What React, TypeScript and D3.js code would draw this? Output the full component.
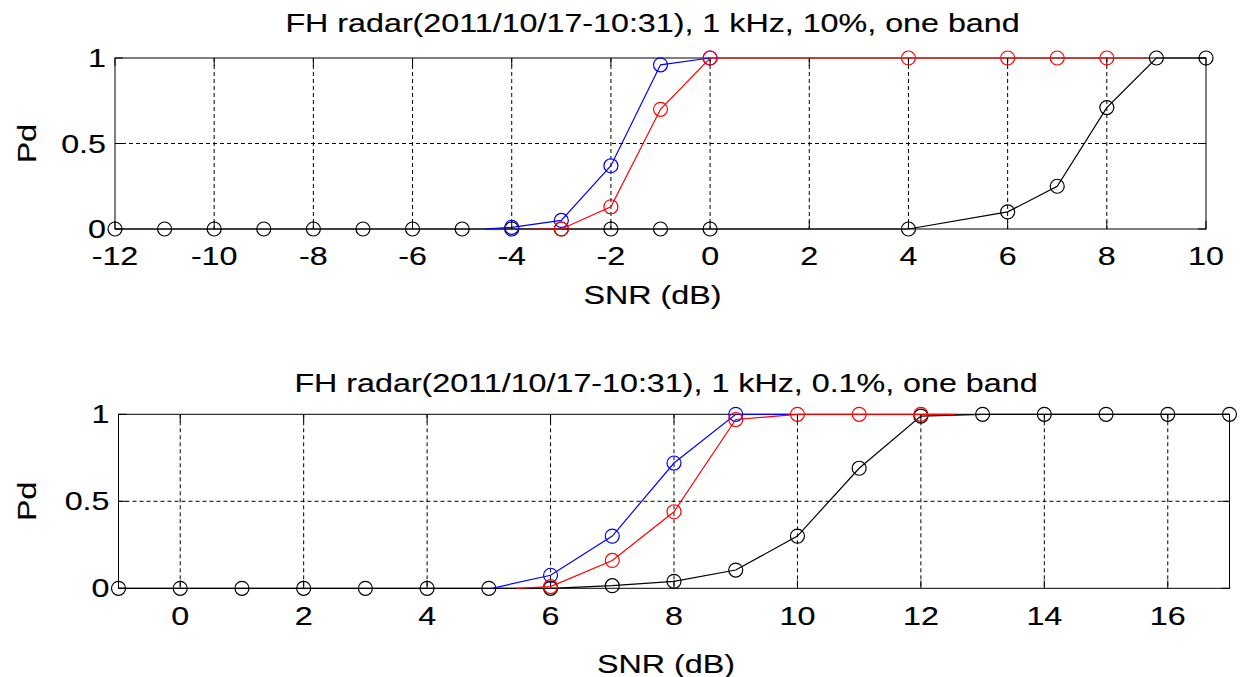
import React from "react";
import * as d3 from "d3";

// ---------- data ----------
const titleTop = "FH radar(2011/10/17-10:31), 1 kHz, 10%, one band";
const titleBottom = "FH radar(2011/10/17-10:31), 1 kHz, 0.1%, one band";
const xLabel = "SNR (dB)";
const yLabel = "Pd";

const topXTicks = [-12, -10, -8, -6, -4, -2, 0, 2, 4, 6, 8, 10];
const bottomXTicks = [0, 2, 4, 6, 8, 10, 12, 14, 16];
const yTicks = [0, 0.5, 1];
const yTickLabels = ["0", "0.5", "1"];

// top panel
const topBlackX = [-12, -11, -10, -9, -8, -7, -6, -5, -4, -3, -2, -1, 0, 4, 6, 7, 8, 9, 10];
const topBlackY = [0, 0, 0, 0, 0, 0, 0, 0, 0, 0, 0, 0, 0, 0, 0.1, 0.25, 0.71, 1, 1];
const topBlueX = [-4, -3, -2, -1, 0];
const topBlueY = [0.01, 0.05, 0.37, 0.96, 1];
const topBlueLineFrom = -4.55;
const topBlueLineTo = 0;
const topRedX = [-3, -2, -1, 0, 4, 6, 7, 8];
const topRedY = [0, 0.13, 0.7, 1, 1, 1, 1, 1];
const topRedLineFrom = -3.55;
const topRedLineTo = 8.85;

// bottom panel
const botBlackX = [-1, 0, 1, 2, 3, 4, 5, 6, 7, 8, 9, 10, 11, 12, 13, 14, 15, 16, 17];
const botBlackY = [0, 0, 0, 0, 0, 0, 0, 0, 0.015, 0.04, 0.105, 0.3, 0.69, 0.99, 1, 1, 1, 1, 1];
const botBlueX = [6, 7, 8, 9];
const botBlueY = [0.075, 0.3, 0.72, 1];
const botBlueLineFrom = 5.05;
const botBlueLineTo = 9.9;
const botRedX = [6, 7, 8, 9, 10, 11, 12];
const botRedY = [0.01, 0.16, 0.44, 0.97, 1, 1, 1];
const botRedLineFrom = 5.45;
const botRedLineTo = 12.55;

// ---------- styling ----------
const FONT = "'Liberation Sans', Arial, Helvetica, sans-serif";
const FS = 25;
const SX = 1.29;

type Series = {
  xs: number[];
  ys: number[];
  color: string;
  from?: number;
  to?: number;
};

function Txt({ x, y, text, anchor = "middle", rotate = 0, dy = "0" }: any) {
  return (
    <g transform={`translate(${x},${y}) rotate(${rotate}) scale(${SX},1)`}>
      <text
        x={0}
        y={0}
        dy={dy}
        textAnchor={anchor}
        fontFamily={FONT}
        fontSize={FS}
        fill="#000"
        stroke="#000"
        strokeWidth={0.15}
      >
        {text}
      </text>
    </g>
  );
}

function Panel({
  left,
  right,
  top,
  bottom,
  xDomain,
  xTicks,
  series,
  title,
  titleY,
  xLabelY,
  tickLabelY,
}: any) {
  const x = d3.scaleLinear().domain(xDomain).range([left, right]);
  const y = d3.scaleLinear().domain([0, 1]).range([bottom, top]);
  const line = d3
    .line<[number, number]>()
    .x((d) => x(d[0]))
    .y((d) => y(d[1]));
  const tickLen = 8;
  const midX = (left + right) / 2;

  return (
    <g>
      {/* grid */}
      {xTicks.map((t: number) =>
        t === xDomain[0] || t === xDomain[1] ? null : (
          <line
            key={"gx" + t}
            x1={x(t)}
            x2={x(t)}
            y1={top}
            y2={bottom}
            stroke="#000"
            strokeWidth={1}
            strokeDasharray="4,3"
          />
        )
      )}
      {yTicks.map((t) =>
        t === 0 || t === 1 ? null : (
          <line
            key={"gy" + t}
            x1={left}
            x2={right}
            y1={y(t)}
            y2={y(t)}
            stroke="#000"
            strokeWidth={1}
            strokeDasharray="4,3"
          />
        )
      )}
      {/* box */}
      <rect
        x={left}
        y={top}
        width={right - left}
        height={bottom - top}
        fill="none"
        stroke="#000"
        strokeWidth={1}
      />
      {/* ticks */}
      {xTicks.map((t: number) => (
        <g key={"tx" + t}>
          <line x1={x(t)} x2={x(t)} y1={bottom} y2={bottom - tickLen} stroke="#000" />
          <line x1={x(t)} x2={x(t)} y1={top} y2={top + tickLen} stroke="#000" />
        </g>
      ))}
      {yTicks.map((t) => (
        <g key={"ty" + t}>
          <line x1={left} x2={left + tickLen} y1={y(t)} y2={y(t)} stroke="#000" />
          <line x1={right} x2={right - tickLen} y1={y(t)} y2={y(t)} stroke="#000" />
        </g>
      ))}
      {/* series */}
      {series.map((s: Series, i: number) => {
        const pts: [number, number][] = s.xs.map((v, j) => [v, s.ys[j]]);
        if (s.from !== undefined && s.from < s.xs[0]) pts.unshift([s.from, 0]);
        if (s.to !== undefined && s.to > s.xs[s.xs.length - 1])
          pts.push([s.to, s.ys[s.ys.length - 1]]);
        return (
          <g key={"s" + i}>
            <path d={line(pts) || ""} fill="none" stroke={s.color} strokeWidth={1.2} />
            {s.xs.map((v, j) => (
              <circle
                key={j}
                cx={x(v)}
                cy={y(s.ys[j])}
                r={7}
                fill="none"
                stroke={s.color}
                strokeWidth={1.2}
              />
            ))}
          </g>
        );
      })}
      {/* tick labels */}
      {xTicks.map((t: number) => (
        <Txt key={"lx" + t} x={x(t)} y={tickLabelY} text={String(t)} />
      ))}
      {yTicks.map((t, i) => (
        <Txt
          key={"ly" + t}
          x={left - 9}
          y={y(t)}
          text={yTickLabels[i]}
          anchor="end"
          dy="0.36em"
        />
      ))}
      {/* titles */}
      <Txt x={midX - 8} y={titleY} text={title} />
      <Txt x={midX - 8} y={xLabelY} text={xLabel} />
      <Txt x={36} y={(top + bottom) / 2} text={yLabel} rotate={-90} />
    </g>
  );
}

export default function App() {
  return (
    <svg
      width={1247}
      height={677}
      style={{ position: "absolute", left: 0, top: 0, background: "#fff" }}
    >
      <rect x={0} y={0} width={1247} height={677} fill="#fff" />
      <Panel
        left={115}
        right={1206}
        top={58}
        bottom={229}
        xDomain={[-12, 10]}
        xTicks={topXTicks}
        title={titleTop}
        titleY={32}
        xLabelY={304}
        tickLabelY={265}
        series={[
          { xs: topBlackX, ys: topBlackY, color: "#000" },
          { xs: topBlueX, ys: topBlueY, color: "#0000ff", from: topBlueLineFrom, to: topBlueLineTo },
          { xs: topRedX, ys: topRedY, color: "#ff0000", from: topRedLineFrom, to: topRedLineTo },
        ]}
      />
      <Panel
        left={118.5}
        right={1229.5}
        top={414.3}
        bottom={588.3}
        xDomain={[-1, 17]}
        xTicks={bottomXTicks}
        title={titleBottom}
        titleY={392}
        xLabelY={673}
        tickLabelY={625}
        series={[
          { xs: botBlackX, ys: botBlackY, color: "#000" },
          { xs: botBlueX, ys: botBlueY, color: "#0000ff", from: botBlueLineFrom, to: botBlueLineTo },
          { xs: botRedX, ys: botRedY, color: "#ff0000", from: botRedLineFrom, to: botRedLineTo },
        ]}
      />
    </svg>
  );
}
